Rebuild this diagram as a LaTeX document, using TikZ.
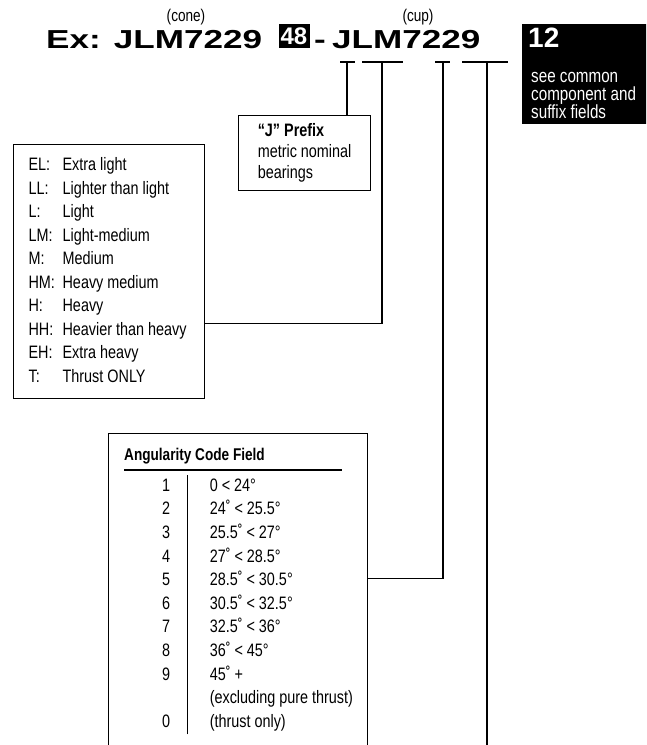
\documentclass[tikz,border=0pt]{standalone}
\usepackage{fontspec}
\setmainfont{Liberation Sans}
\newfontfamily\narrowfont{Liberation Sans}[FakeStretch=0.8]
\newfontfamily\narrowbold{Liberation Sans Bold}[FakeStretch=0.8]
\newfontfamily\widebold{Liberation Sans Bold}[FakeStretch=1.35]
\usetikzlibrary{positioning}
\setlength\arrayrulewidth{1.1pt}

\begin{document}
\begin{tikzpicture}[x=1pt, y=-1pt,
    part/.style={inner sep=0pt, font=\widebold\fontsize{26}{26}\selectfont},
    tag/.style={fill=black, text=white, inner sep=0pt, font=\bfseries\fontsize{24}{24}\selectfont},
    paren/.style={inner sep=0pt, font=\narrowfont\fontsize{17}{17}\selectfont},
    box/.style={draw, line width=1.2pt, inner sep=0pt, align=left, font=\narrowfont\fontsize{18}{21}\selectfont},
    link/.style={line width=1.2pt}
]
\useasboundingbox (0,0) rectangle (646,745);
\clip (0,0) rectangle (646,745);

\node[part, anchor=base west] (cone) at (46,48) {Ex: JLM7229};
\node[paren, anchor=base] (conetag) at (186,21) {(cone)};
\node[tag, minimum width=31pt, minimum height=24pt] (coneno) at (294,36) {48};
\node[part, anchor=base] (dash) at (320,48) {-};
\node[part, anchor=base west] (cup) at (332,48) {JLM7229};
\node[paren, anchor=base] (cuptag) at (418,21) {(cup)};
\node[tag, anchor=north west, minimum width=130pt, minimum height=100pt] (suffix) at (522,24) {};
\node[tag, anchor=base west, font=\bfseries\fontsize{28}{28}\selectfont] (suffixno) at (528,47) {12};
\node[anchor=base west, inner sep=0pt, text=white, align=left, font=\narrowfont\fontsize{19}{18}\selectfont] (suffixnote) at (531,118) {see common\\component and\\suffix fields};

\node[box, anchor=north west, minimum width=132pt, minimum height=75pt] (prefix) at (238,115) {{\narrowbold “J” Prefix}\\metric nominal\\bearings};

\node[box, anchor=north west, minimum width=191pt, minimum height=254pt, font=\narrowfont\fontsize{18}{23.5}\selectfont] (series) at (13,144) {\begin{tabular}{@{}p{34pt}@{}p{127pt}@{}}
EL: & Extra light\\
LL: & Lighter than light\\
L: & Light\\
LM: & Light-medium\\
M: & Medium\\
HM: & Heavy medium\\
H: & Heavy\\
HH: & Heavier than heavy\\
EH: & Extra heavy\\
T: & Thrust ONLY
\end{tabular}};

\node[box, anchor=north west, minimum width=259pt, minimum height=330pt] (angle) at (108,433) {};
\node[anchor=base west, inner sep=0pt, font=\narrowbold\fontsize{17}{17}\selectfont] (angtitle) at ([shift={(16,27)}]angle.north west) {Angularity Code Field};
\draw[line width=1.6pt] ([yshift=-10pt]angtitle.base west) -- ++(218,0);
\node[anchor=north west, inner sep=0pt, font=\narrowfont\fontsize{18}{23.6}\selectfont] (angcodes) at ([shift={(54,41.5)}]angle.north west) {\begin{tabular}{@{}r@{\hspace{17pt}}|@{\hspace{22pt}}l@{}}
1 & 0 < 24°\\
2 & 24˚ < 25.5°\\
3 & 25.5˚ < 27°\\
4 & 27˚ < 28.5°\\
5 & 28.5˚ < 30.5°\\
6 & 30.5˚ < 32.5°\\
7 & 32.5˚ < 36°\\
8 & 36˚ < 45°\\
9 & 45˚ +\\
  & (excluding pure thrust)\\
0 & (thrust only)
\end{tabular}};

\coordinate (u1) at (347,62);
\coordinate (u2) at (382,62);
\coordinate (u3) at (443,62);
\coordinate (u4) at (487,62);
\draw[link] (340,62) -- (355,62) (362,62) -- (403,62) (435,62) -- (450,62) (462,62) -- (508,62);
\coordinate (seriesjoin) at ([yshift=-52pt]series.east);
\coordinate (anglejoin) at ([yshift=20pt]angle.east);
\coordinate (pagebottom) at (0,760);

\draw[link] (u1) -- (u1 |- prefix.north);
\draw[link] (u2) |- (seriesjoin);
\draw[link] (u3) |- (anglejoin);
\draw[link] (u4) -- (u4 |- pagebottom);
\end{tikzpicture}
\end{document}
